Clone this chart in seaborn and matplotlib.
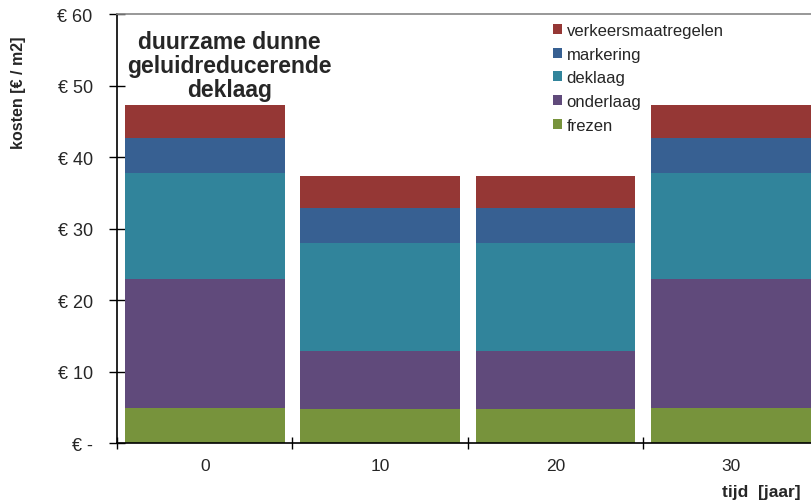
import pandas as pd
import matplotlib
matplotlib.use('Agg')
import matplotlib.pyplot as plt
import seaborn as sns

tijd = ['0', '10', '20', '30']
frezen = [4.9, 4.7, 4.7, 4.9]
onderlaag = [18.0, 8.2, 8.2, 18.0]
deklaag = [14.9, 15.1, 15.1, 14.9]
markering = [4.8, 4.8, 4.8, 4.8]
verkeersmaatregelen = [4.7, 4.6, 4.6, 4.7]

lagen = ['frezen', 'onderlaag', 'deklaag', 'markering', 'verkeersmaatregelen']
kleuren = ['#77933C', '#604A7B', '#31849B', '#376092', '#953735']
y_ticks = [0, 10, 20, 30, 40, 50, 60]
y_labels = ['€ -', '€ 10', '€ 20', '€ 30', '€ 40', '€ 50', '€ 60']

df = pd.DataFrame({
    'tijd': tijd,
    'frezen': frezen,
    'onderlaag': onderlaag,
    'deklaag': deklaag,
    'markering': markering,
    'verkeersmaatregelen': verkeersmaatregelen,
})

sns.set_style('white')
plt.rcParams['font.family'] = ['Liberation Sans', 'DejaVu Sans']

fig = plt.figure(figsize=(8.11, 5.02), dpi=100)
ax = fig.add_axes([0.1443, 0.1155, 0.865, 0.8546])

bottom = pd.Series([0.0] * len(df))
for laag, kleur in zip(lagen, kleuren):
    sns.barplot(data=df, x='tijd', y=laag, bottom=bottom.values, color=kleur,
                saturation=1, width=0.91, errorbar=None, label=laag,
                linewidth=0, ax=ax)
    bottom = bottom + df[laag]

ax.set_xlim(-0.5, 3.5)
ax.set_ylim(0, 60)
ax.set_yticks(y_ticks)
ax.set_yticklabels(y_labels, fontsize=13)
ax.tick_params(axis='y', direction='inout', length=11, width=1, color='black', pad=12, left=True)

ax.set_xticks(range(len(tijd)))
ax.set_xticklabels(tijd, fontsize=12.5)
ax.set_xticks([-0.5, 0.5, 1.5, 2.5], minor=True)
ax.tick_params(axis='x', which='major', length=0, pad=11)
ax.tick_params(axis='x', which='minor', direction='inout', length=9, width=1, color='black', bottom=True)

for s in ['left', 'bottom']:
    ax.spines[s].set_color('black')
    ax.spines[s].set_linewidth(1.2)
ax.spines['top'].set_color('#868686')
ax.spines['top'].set_linewidth(1.2)
ax.spines['right'].set_visible(False)

ax.set_ylabel('kosten [€ / m2]', fontsize=11.5, fontweight='bold', va='center')
ax.yaxis.set_label_coords(-0.141, 0.818)
ax.set_xlabel('tijd  [jaar]', fontsize=12.5, fontweight='bold', va='center')
ax.xaxis.set_label_coords(0.918, -0.112)

ax.text(0.14, 57.8, 'duurzame dunne\ngeluidreducerende\ndeklaag', ha='center', va='top',
        fontsize=16.5, fontweight='bold', linespacing=1.05)

handles, labels = ax.get_legend_handles_labels()
ax.legend(handles[::-1], labels[::-1], loc='upper left', bbox_to_anchor=(0.672, 0.969),
          bbox_transform=fig.transFigure, frameon=False, fontsize=12,
          handlelength=0.55, handleheight=0.55, handletextpad=0.25, labelspacing=0.52,
          borderpad=0)

fig.savefig('out.png', dpi=100)
